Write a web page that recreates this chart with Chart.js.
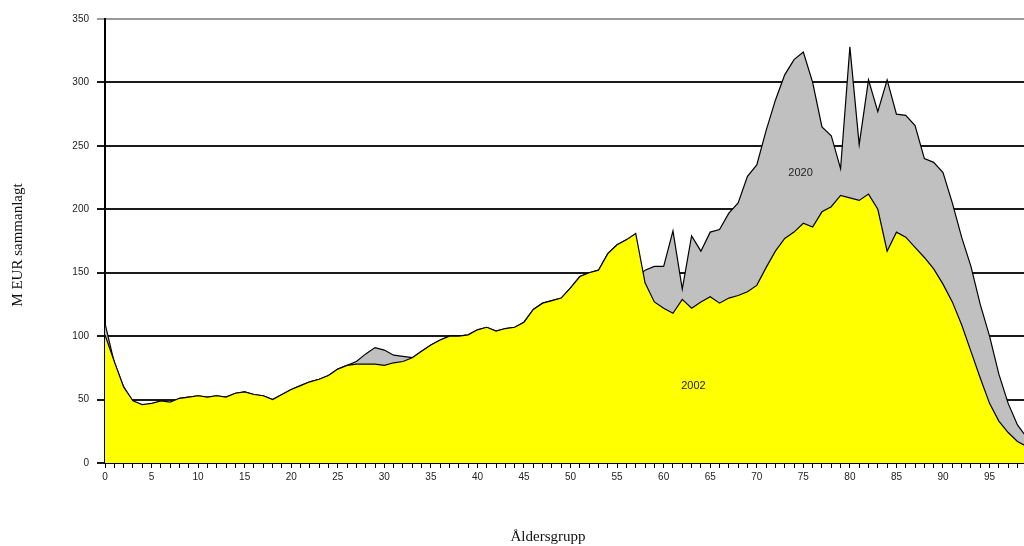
<!DOCTYPE html>
<html>
<head>
<meta charset="utf-8">
<script src="https://cdn.jsdelivr.net/npm/chart.js@4/dist/chart.umd.min.js"></script>
<style>
  html, body { margin:0; padding:0; background:#fff; }
  canvas { display:block; }
</style>
</head>
<body>
<canvas id="chart" width="1024" height="546"></canvas>
<script>
// ages 0..99 (the plot is cut off at the right, a bit before 99)
const ages = Array.from({length:100}, (_,i)=> i);
const xMax = 98.7;

const v2002 = [
  101, 80, 60, 49, 46, 47, 49, 48, 51, 52,
   53, 52, 53, 52, 55, 56, 54, 53, 50, 54,
   58, 61, 64, 66, 69, 74, 77, 78, 78, 78,
   77, 79, 80, 83, 88, 93, 97,100,100,101,
  105,107,104,106,107,111,121,126,128,130,
  138,147,150,152,165,172,176,181,142,127,
  122,118,129,122,127,131,126,130,132,135,
  140,154,167,177,182,189,186,198,202,211,
  209,207,212,200,167,182,178,170,162,153,
  141,127,109, 88, 67, 47, 33, 24, 17, 13
];

const v2020 = [
  110, 79, 60, 48, 44, 45, 48, 47, 51, 52,
   53, 52, 53, 52, 55, 56, 54, 53, 50, 54,
   58, 61, 64, 66, 69, 74, 77, 80, 86, 91,
   89, 85, 84, 83, 88, 93, 97,100,100,101,
  105,107,104,106,107,111,121,126,128,130,
  138,147,150,152,165,172,176,145,152,155,
  155,183,137,179,167,182,184,197,205,226,
  235,262,286,306,318,324,300,265,258,232,
  328,251,302,277,302,275,274,266,240,237,
  229,205,178,155,125,100, 70, 47, 30, 20
];

const yTicks = [0, 50, 100, 150, 200, 250, 300, 350];

// in-chart series labels: [text, age, value]
const seriesLabels = [["2020", 74.7, 229], ["2002", 63.2, 61]];

const textPlugin = {
  id: 'texts',
  afterDatasetsDraw(chart) {
    const {ctx, scales:{x, y}} = chart;
    ctx.save();
    ctx.font = '11px "Liberation Sans", Arial, sans-serif';
    ctx.fillStyle = '#222';
    ctx.textAlign = 'center';
    ctx.textBaseline = 'middle';
    seriesLabels.forEach(([t, a, v]) => {
      ctx.fillText(t, x.getPixelForValue(a), y.getPixelForValue(v));
    });
    ctx.restore();
  },
  afterDraw(chart) {
    const ctx = chart.ctx;
    ctx.save();
    ctx.font = '15px "Liberation Serif", "Times New Roman", serif';
    ctx.fillStyle = '#111';
    ctx.textAlign = 'center';
    ctx.textBaseline = 'middle';
    ctx.fillText('Åldersgrupp', 548, 537);
    ctx.translate(18, 245);
    ctx.rotate(-Math.PI/2);
    ctx.fillText('M EUR sammanlagt', 0, 0);
    ctx.restore();
  }
};

const pts = vals => ages.map((a, i) => ({ x: a, y: vals[i] }));

new Chart(document.getElementById('chart'), {
  type: 'line',
  data: {
    datasets: [
      { label:'2002', data:pts(v2002), fill:'origin', backgroundColor:'#ffff00',
        borderColor:'#000', borderWidth:1.2, pointRadius:0, tension:0 },
      { label:'2020', data:pts(v2020), fill:'origin', backgroundColor:'#c0c0c0',
        borderColor:'#000', borderWidth:1.2, pointRadius:0, tension:0 }
    ]
  },
  options: {
    responsive: false,
    animation: false,
    layout: { padding: { top: 19, left: 0, right: 0, bottom: 0 } },
    plugins: {
      legend: { display:false },
      tooltip: { enabled:false },
      filler: { drawTime: 'beforeDatasetDraw' }
    },
    scales: {
      x: {
        type: 'linear',
        min: 0, max: xMax,
        grid: { drawOnChartArea:false, drawTicks:true, tickLength:5, color:'#000' },
        border: { color:'#000', width:2 },
        ticks: {
          stepSize: 1, includeBounds: false,
          autoSkip:false, maxRotation:0, padding:3,
          color:'#222', font:{ family:'"Liberation Sans", Arial, sans-serif', size:10 },
          callback: v => (Number.isInteger(v) && v % 5 === 0) ? String(v) : ''
        },
        afterFit: s => { s.height = 83; }
      },
      y: {
        min: 0, max: 350,
        afterBuildTicks: s => { s.ticks = yTicks.map(v => ({value:v})); },
        grid: {
          color: c => c.tick && c.tick.value === 350 ? '#9a9a9a' : '#1a1a1a',
          lineWidth: 2, tickLength: 8
        },
        border: { color:'#000', width:2 },
        ticks: {
          padding: 8, color:'#222',
          font:{ family:'"Liberation Sans", Arial, sans-serif', size:10 }
        },
        afterFit: s => { s.width = 105; }
      }
    }
  },
  plugins: [textPlugin]
});
</script>
</body>
</html>
